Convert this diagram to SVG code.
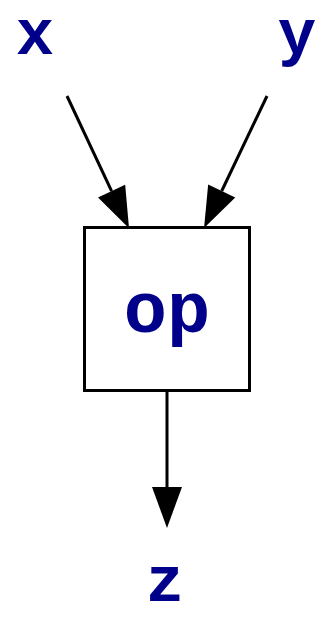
<svg xmlns="http://www.w3.org/2000/svg" width="328" height="621" viewBox="0 0 328 621">
<style>
.lbl{font-family:"Liberation Mono","Courier New",monospace;font-weight:bold;font-size:64px;fill:#00008b;text-anchor:middle}
.big{font-size:72px}
.edge{stroke:#000;stroke-width:3;fill:none}
</style>
<defs>
<marker id="ah" markerUnits="userSpaceOnUse" markerWidth="42" markerHeight="30" refX="0" refY="15" orient="auto" overflow="visible">
<path d="M0,0 L41,15 L0,30 Z" fill="#000"/>
</marker>
</defs>
<rect width="328" height="621" fill="#fff"/>
<g id="connectors">
<path class="edge" d="M67,96 L111.6,191.1" marker-end="url(#ah)"/>
<path class="edge" d="M267,96 L221.7,191" marker-end="url(#ah)"/>
<path class="edge" d="M167,392 L167,487" marker-end="url(#ah)"/>
</g>
<g id="node-x"><text class="lbl" x="35" y="54">x</text></g>
<g id="node-y"><text class="lbl" x="297" y="54">y</text></g>
<g id="node-op">
<rect x="84.5" y="227.5" width="165" height="163" fill="none" stroke="#000" stroke-width="3"/>
<text class="lbl big" x="167" y="332">op</text>
</g>
<g id="node-z"><text class="lbl" x="165" y="601">z</text></g>
</svg>
